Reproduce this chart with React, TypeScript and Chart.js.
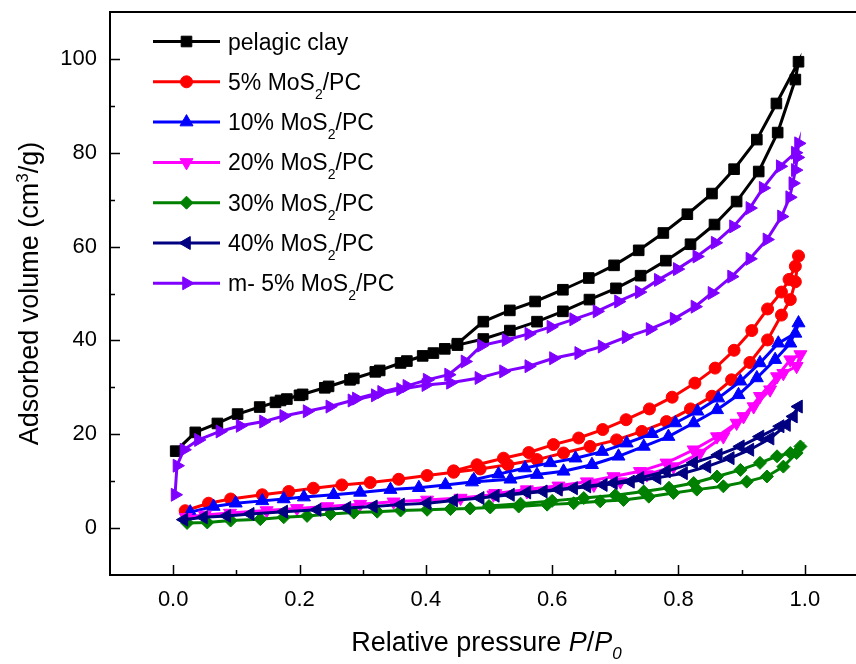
import React, { useEffect, useRef } from 'react';
import { Chart, registerables } from 'chart.js';

Chart.register(...registerables);

const FONT = '"Liberation Sans", Arial, Helvetica, sans-serif';

const seriesLabels = ['pelagic clay', '5% MoS_2/PC', '10% MoS_2/PC', '20% MoS_2/PC', '30% MoS_2/PC', '40% MoS_2/PC', 'm- 5% MoS_2/PC'];
const seriesColors = ['#000000', '#FF0000', '#0000FF', '#FF00FF', '#008000', '#000080', '#8000FF'];
const seriesMarkers = ['rect', 'circle', 'triangle', 'triangle', 'rectRot', 'triangle', 'triangle'];
const seriesRotations = [0, 0, 0, 180, 0, -90, 90];
const seriesRadii = [7.5, 6, 7.5, 7.5, 6.5, 7.5, 7.5];

const xTickValues = [0, 0.2, 0.4, 0.6, 0.8, 1.0];
const xMinorTickValues = [0.1, 0.3, 0.5, 0.7, 0.9];
const yTickValues = [0, 20, 40, 60, 80, 100];
const yMinorTickValues = [10, 30, 50, 70, 90];

// pelagic clay
const clayAdsP = [0.004, 0.035, 0.07, 0.102, 0.137, 0.162, 0.18, 0.205, 0.246, 0.286, 0.327, 0.37, 0.412, 0.45, 0.491, 0.533, 0.576, 0.617, 0.659, 0.701, 0.74, 0.78, 0.819, 0.857, 0.892, 0.927, 0.957, 0.985, 0.99];
const clayAdsV = [16.4, 20.4, 22.3, 24.3, 25.8, 26.8, 27.5, 28.5, 30.2, 31.9, 33.6, 35.6, 37.3, 39.0, 40.3, 42.1, 44.0, 46.2, 48.7, 51.1, 53.8, 57.0, 60.5, 64.7, 69.6, 76.0, 84.3, 95.6, 99.4];
const clayDesP = [0.955, 0.924, 0.888, 0.853, 0.814, 0.776, 0.737, 0.698, 0.658, 0.617, 0.573, 0.533, 0.491, 0.45, 0.43, 0.395, 0.36, 0.32, 0.28, 0.24, 0.2, 0.17];
const clayDesV = [90.5, 82.8, 76.5, 71.3, 66.9, 62.9, 59.2, 56.0, 53.3, 50.8, 48.3, 46.4, 44.0, 39.3, 38.2, 36.7, 35.2, 33.3, 31.6, 29.9, 28.3, 27.2];

// 5% MoS2/PC
const m5AdsP = [0.019, 0.056, 0.091, 0.141, 0.183, 0.222, 0.267, 0.312, 0.357, 0.402, 0.444, 0.486, 0.53, 0.576, 0.618, 0.66, 0.702, 0.742, 0.781, 0.819, 0.853, 0.884, 0.913, 0.941, 0.963, 0.977, 0.985, 0.99];
const m5AdsV = [3.7, 5.3, 6.2, 7.1, 7.8, 8.5, 9.2, 9.7, 10.4, 11.2, 11.9, 12.6, 13.5, 14.6, 16.0, 17.4, 18.8, 20.6, 22.7, 25.4, 28.1, 31.6, 35.3, 40.1, 45.4, 48.7, 52.5, 58.0];
const m5DesP = [0.985, 0.975, 0.963, 0.941, 0.916, 0.888, 0.858, 0.826, 0.79, 0.754, 0.717, 0.68, 0.642, 0.602, 0.563, 0.523, 0.481, 0.444];
const m5DesV = [55.8, 53.0, 50.3, 46.7, 42.1, 37.9, 34.1, 30.9, 27.9, 25.4, 23.1, 21.0, 19.2, 17.8, 16.1, 14.9, 13.5, 12.2];

// 10% MoS2/PC
const m10AdsP = [0.027, 0.064, 0.099, 0.141, 0.175, 0.207, 0.254, 0.296, 0.344, 0.389, 0.431, 0.473, 0.534, 0.576, 0.618, 0.663, 0.705, 0.745, 0.784, 0.824, 0.861, 0.895, 0.924, 0.953, 0.977, 0.99];
const m10AdsV = [3.4, 4.6, 5.3, 5.8, 6.2, 6.6, 7.1, 7.6, 8.2, 8.6, 9.2, 9.8, 10.4, 11.4, 12.1, 13.5, 15.3, 17.4, 19.5, 22.4, 25.2, 28.4, 32.0, 35.9, 39.4, 43.7];
const m10DesP = [0.985, 0.958, 0.929, 0.898, 0.863, 0.83, 0.795, 0.758, 0.718, 0.679, 0.637, 0.597, 0.557, 0.515, 0.476];
const m10DesV = [41.5, 39.4, 35.2, 31.3, 27.7, 24.9, 22.4, 20.1, 18.1, 16.3, 14.9, 13.9, 12.8, 11.5, 10.3];

// 20% MoS2/PC
const m20AdsP = [0.02, 0.05, 0.09, 0.148, 0.196, 0.244, 0.296, 0.349, 0.402, 0.455, 0.507, 0.56, 0.613, 0.666, 0.708, 0.75, 0.792, 0.834, 0.871, 0.903, 0.929, 0.956, 0.977, 0.993];
const m20AdsV = [2.3, 2.8, 3.2, 3.75, 4.2, 4.6, 5.1, 5.6, 6.0, 6.4, 7.1, 7.8, 8.5, 9.2, 9.9, 11.4, 13.1, 16.0, 19.5, 23.8, 28.1, 32.3, 35.9, 37.0];
const m20DesP = [0.987, 0.966, 0.945, 0.919, 0.892, 0.861, 0.824, 0.781, 0.739, 0.697, 0.655, 0.61, 0.56, 0.51];
const m20DesV = [34.5, 33.0, 29.5, 25.9, 22.4, 19.5, 16.7, 13.9, 12.1, 11.0, 9.9, 9.0, 8.2, 7.4];

// 30% MoS2/PC
const m30AdsP = [0.022, 0.054, 0.091, 0.138, 0.175, 0.212, 0.249, 0.286, 0.323, 0.36, 0.402, 0.439, 0.47, 0.502, 0.547, 0.592, 0.634, 0.676, 0.713, 0.753, 0.792, 0.829, 0.871, 0.908, 0.94, 0.966, 0.987, 0.993];
const m30AdsV = [1.1, 1.2, 1.6, 1.9, 2.3, 2.6, 3.0, 3.3, 3.5, 3.75, 3.9, 4.05, 4.2, 4.4, 4.6, 5.0, 5.3, 5.7, 6.0, 6.7, 7.5, 8.2, 8.9, 9.9, 11.0, 13.1, 16.0, 17.4];
const m30DesP = [0.977, 0.956, 0.929, 0.898, 0.861, 0.824, 0.785, 0.745, 0.7, 0.65, 0.6, 0.55, 0.5];
const m30DesV = [16.0, 15.3, 13.9, 12.4, 11.0, 9.6, 8.6, 7.8, 7.0, 6.4, 5.8, 5.2, 4.7];

// 40% MoS2/PC
const m40AdsP = [0.017, 0.048, 0.085, 0.122, 0.175, 0.228, 0.275, 0.317, 0.36, 0.402, 0.444, 0.486, 0.534, 0.586, 0.634, 0.681, 0.724, 0.766, 0.808, 0.845, 0.882, 0.913, 0.945, 0.971, 0.99];
const m40AdsV = [1.8, 2.3, 2.6, 3.0, 3.5, 3.9, 4.3, 4.6, 5.0, 5.3, 5.9, 6.4, 7.1, 7.8, 8.5, 9.2, 9.9, 10.7, 11.7, 13.1, 14.9, 16.7, 19.1, 22.0, 25.9];
const m40DesP = [0.982, 0.961, 0.929, 0.898, 0.863, 0.824, 0.781, 0.739, 0.697, 0.655, 0.61, 0.56, 0.51];
const m40DesV = [23.8, 21.7, 19.5, 17.4, 15.6, 13.9, 12.1, 10.7, 9.6, 8.9, 8.2, 7.6, 6.9];

// m- 5% MoS2/PC
const mm5AdsP = [0.003, 0.006, 0.017, 0.04, 0.074, 0.106, 0.143, 0.175, 0.212, 0.248, 0.283, 0.32, 0.36, 0.4, 0.439, 0.484, 0.523, 0.563, 0.602, 0.642, 0.679, 0.717, 0.755, 0.793, 0.826, 0.853, 0.884, 0.913, 0.94, 0.963, 0.976, 0.981, 0.985, 0.988, 0.99];
const mm5AdsV = [7.1, 13.3, 16.7, 18.8, 20.6, 21.8, 22.7, 23.9, 24.9, 25.9, 27.2, 28.3, 29.6, 30.5, 31.0, 32.0, 33.4, 34.5, 36.2, 37.3, 38.7, 40.7, 42.4, 44.6, 47.2, 50.1, 53.6, 57.4, 61.5, 66.4, 70.5, 73.5, 76.3, 79.0, 82.0];
const mm5DesP = [0.985, 0.961, 0.934, 0.913, 0.887, 0.858, 0.829, 0.798, 0.768, 0.738, 0.705, 0.671, 0.634, 0.598, 0.563, 0.527, 0.488, 0.462, 0.436, 0.402, 0.37, 0.33, 0.29];
const mm5DesV = [80.0, 77.1, 72.5, 68.2, 64.3, 60.8, 57.9, 55.2, 52.9, 50.3, 48.3, 46.2, 44.5, 42.9, 41.4, 40.1, 38.9, 35.5, 32.7, 31.6, 30.3, 29.0, 27.6];

const seriesP = [
  [...clayAdsP, ...clayDesP],
  [...m5AdsP, ...m5DesP],
  [...m10AdsP, ...m10DesP],
  [...m20AdsP, ...m20DesP],
  [...m30AdsP, ...m30DesP],
  [...m40AdsP, ...m40DesP],
  [...mm5AdsP, ...mm5DesP],
];
const seriesV = [
  [...clayAdsV, ...clayDesV],
  [...m5AdsV, ...m5DesV],
  [...m10AdsV, ...m10DesV],
  [...m20AdsV, ...m20DesV],
  [...m30AdsV, ...m30DesV],
  [...m40AdsV, ...m40DesV],
  [...mm5AdsV, ...mm5DesV],
];

type Part = { t: string; size: number; italic?: boolean; dy?: number };

function drawParts(ctx: CanvasRenderingContext2D, parts: Part[], x: number, y: number, align: 'left' | 'center') {
  let total = 0;
  const widths = parts.map((p) => {
    ctx.font = `${p.italic ? 'italic ' : ''}${p.size}px ${FONT}`;
    const w = ctx.measureText(p.t).width;
    total += w;
    return w;
  });
  let cx = align === 'center' ? x - total / 2 : x;
  ctx.textAlign = 'left';
  ctx.textBaseline = 'alphabetic';
  parts.forEach((p, i) => {
    ctx.font = `${p.italic ? 'italic ' : ''}${p.size}px ${FONT}`;
    ctx.fillText(p.t, cx, y + (p.dy || 0));
    cx += widths[i];
  });
}

function labelParts(label: string, size: number, subSize: number, subDy: number): Part[] {
  const out: Part[] = [];
  const segs = label.split('_');
  segs.forEach((s, i) => {
    if (i === 0) {
      out.push({ t: s, size });
    } else {
      out.push({ t: s.charAt(0), size: subSize, dy: subDy });
      out.push({ t: s.slice(1), size });
    }
  });
  return out;
}

function drawMarker(ctx: CanvasRenderingContext2D, style: string, x: number, y: number, r: number, rotDeg: number) {
  let rad = (rotDeg * Math.PI) / 180;
  ctx.beginPath();
  if (style === 'circle') {
    ctx.arc(x, y, r, 0, Math.PI * 2);
  } else if (style === 'rect') {
    const s = Math.SQRT1_2 * r;
    ctx.rect(x - s, y - s, 2 * s, 2 * s);
  } else if (style === 'rectRot') {
    ctx.moveTo(x, y - r);
    ctx.lineTo(x + r, y);
    ctx.lineTo(x, y + r);
    ctx.lineTo(x - r, y);
    ctx.closePath();
  } else {
    ctx.moveTo(x + Math.sin(rad) * r, y - Math.cos(rad) * r);
    rad += (2 * Math.PI) / 3;
    ctx.lineTo(x + Math.sin(rad) * r, y - Math.cos(rad) * r);
    rad += (2 * Math.PI) / 3;
    ctx.lineTo(x + Math.sin(rad) * r, y - Math.cos(rad) * r);
    ctx.closePath();
  }
  ctx.fill();
  ctx.stroke();
}

const decorPlugin = {
  id: 'decor',
  afterDraw(chart: any) {
    const ctx: CanvasRenderingContext2D = chart.ctx;
    const { left, right, top, bottom } = chart.chartArea;
    const xs = chart.scales.x;
    const ys = chart.scales.y;
    ctx.save();
    ctx.strokeStyle = '#000';
    ctx.fillStyle = '#000';
    ctx.lineWidth = 2;
    ctx.lineCap = 'butt';
    // frame
    ctx.beginPath();
    ctx.moveTo(right + 20, top);
    ctx.lineTo(left, top);
    ctx.lineTo(left, bottom);
    ctx.lineTo(right + 20, bottom);
    ctx.stroke();
    // inward ticks
    ctx.lineWidth = 1.5;
    ctx.beginPath();
    xTickValues.forEach((v) => {
      const px = Math.round(xs.getPixelForValue(v)) + 0.5;
      ctx.moveTo(px, bottom);
      ctx.lineTo(px, bottom - 10);
    });
    xMinorTickValues.forEach((v) => {
      const px = Math.round(xs.getPixelForValue(v)) + 0.5;
      ctx.moveTo(px, bottom);
      ctx.lineTo(px, bottom - 5);
    });
    yTickValues.forEach((v) => {
      const py = Math.round(ys.getPixelForValue(v)) + 0.5;
      ctx.moveTo(left, py);
      ctx.lineTo(left + 10, py);
    });
    yMinorTickValues.forEach((v) => {
      const py = Math.round(ys.getPixelForValue(v)) + 0.5;
      ctx.moveTo(left, py);
      ctx.lineTo(left + 5, py);
    });
    ctx.stroke();

    // x title
    drawParts(
      ctx,
      [
        { t: 'Relative pressure ', size: 27 },
        { t: 'P', size: 27, italic: true },
        { t: '/', size: 27 },
        { t: 'P', size: 27, italic: true },
        { t: '0', size: 17, italic: true, dy: 8 },
      ],
      (left + 867) / 2 - 2,
      651,
      'center'
    );

    // y title
    ctx.save();
    ctx.translate(38, (top + bottom) / 2);
    ctx.rotate(-Math.PI / 2);
    drawParts(
      ctx,
      [
        { t: 'Adsorbed volume (cm', size: 27 },
        { t: '3', size: 17, dy: -10 },
        { t: '/g)', size: 27 },
      ],
      0,
      0,
      'center'
    );
    ctx.restore();

    // legend
    const x0 = 153;
    const x1 = 220;
    const tx = 228;
    const y0 = 41.5;
    const dy = 40.3;
    chart.data.datasets.forEach((ds: any, i: number) => {
      const y = y0 + dy * i;
      ctx.strokeStyle = ds.borderColor;
      ctx.fillStyle = ds.borderColor;
      ctx.lineWidth = 3;
      ctx.beginPath();
      ctx.moveTo(x0, y);
      ctx.lineTo(x1, y);
      ctx.stroke();
      ctx.lineWidth = 1;
      drawMarker(ctx, ds.pointStyle, (x0 + x1) / 2, y, ds.pointRadius, ds.pointRotation);
      ctx.fillStyle = '#000';
      drawParts(ctx, labelParts(ds.label, 23, 14, 9), tx, y + 8, 'left');
    });
    ctx.restore();
  },
};

export default function App() {
  const ref = useRef<HTMLCanvasElement | null>(null);

  useEffect(() => {
    const canvas = ref.current;
    if (!canvas) return;
    const datasets = seriesLabels.map((label, i) => ({
      label,
      data: seriesP[i].map((p, j) => ({ x: p, y: seriesV[i][j] })),
      borderColor: seriesColors[i],
      backgroundColor: seriesColors[i],
      pointBackgroundColor: seriesColors[i],
      pointBorderColor: seriesColors[i],
      borderWidth: 3,
      pointStyle: seriesMarkers[i],
      pointRotation: seriesRotations[i],
      pointRadius: seriesRadii[i],
      pointBorderWidth: 1,
      tension: 0,
      fill: false,
      order: seriesLabels.length - 1 - i,
    }));

    const chart = new Chart(canvas, {
      type: 'line',
      data: { datasets },
      options: {
        animation: false,
        responsive: false,
        devicePixelRatio: 1,
        events: [],
        layout: { padding: { left: 0, top: 12, right: 12, bottom: 0 } },
        plugins: {
          legend: { display: false },
          tooltip: { enabled: false },
          title: { display: false },
        },
        scales: {
          x: {
            type: 'linear',
            min: -0.1,
            max: 1.1,
            afterBuildTicks: (s: any) => {
              s.ticks = xTickValues.map((v) => ({ value: v }));
            },
            afterFit: (s: any) => {
              s.height = 89;
              s.paddingLeft = 0;
              s.paddingRight = 0;
            },
            grid: { display: false, drawTicks: false },
            border: { display: false },
            ticks: {
              color: '#000',
              font: { family: FONT, size: 22 },
              padding: 12,
              maxRotation: 0,
              autoSkip: false,
              callback: (v: any) => Number(v).toFixed(1),
            },
          },
          y: {
            type: 'linear',
            min: -10,
            max: 110,
            afterBuildTicks: (s: any) => {
              s.ticks = yTickValues.map((v) => ({ value: v }));
            },
            afterFit: (s: any) => {
              s.width = 110;
              s.paddingTop = 0;
              s.paddingBottom = 0;
            },
            grid: { display: false, drawTicks: false },
            border: { display: false },
            ticks: {
              color: '#000',
              font: { family: FONT, size: 22 },
              padding: 13,
              autoSkip: false,
              callback: (v: any) => String(Math.round(Number(v))),
            },
          },
        },
      },
      plugins: [decorPlugin],
    } as any);
    return () => chart.destroy();
  }, []);

  return (
    <div style={{ position: 'absolute', left: 0, top: 0, width: 856, height: 664, overflow: 'hidden', background: '#fff' }}>
      <canvas ref={ref} width={880} height={664} style={{ display: 'block', width: 880, height: 664 }} />
    </div>
  );
}
